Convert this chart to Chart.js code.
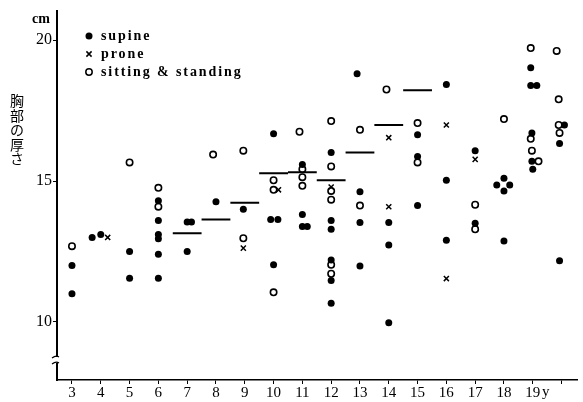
<!DOCTYPE html>
<html>
<head>
<meta charset="utf-8">
<script src="https://cdn.jsdelivr.net/npm/chart.js@4.4.1/dist/chart.umd.min.js"></script>
<style>
  html, body { margin: 0; padding: 0; background: #fff; }
  #wrap { width: 583px; height: 402px; }
</style>
</head>
<body>
<div id="wrap"><canvas id="myChart" width="583" height="402"></canvas></div>
<script>
// supine (filled dots)
const supineAge = [3, 3, 3.7, 4, 5, 5,
  6, 6, 6, 6, 6, 6,
  7, 7.15, 7, 8, 8.95,
  10, 9.9, 10.15, 10,
  11, 11, 11, 11.17,
  12, 12, 12, 12, 12, 12,
  12.9, 13, 13, 13,
  14, 14, 14,
  15, 15, 15,
  16, 16, 16,
  17, 17,
  18, 17.75, 18.2, 18, 18,
  18.93, 18.93, 19.14, 18.97, 18.97, 19,
  20.1, 19.93, 19.93];
const supineVal = [12.0, 11.0, 13.0, 13.1, 12.5, 11.55,
  14.3, 13.6, 13.1, 12.95, 12.4, 11.55,
  13.55, 13.55, 12.5, 14.27, 14.0,
  16.68, 13.64, 13.64, 12.03,
  15.59, 13.81, 13.39, 13.39,
  16.01, 13.6, 13.29, 12.2, 11.47, 10.66,
  18.81, 14.62, 13.53, 11.99,
  13.53, 12.73, 9.97,
  16.64, 15.87, 14.13,
  18.43, 15.03, 12.9,
  16.08, 13.5,
  15.1, 14.86, 14.86, 14.65, 12.87,
  19.02, 18.39, 18.39, 16.71, 15.7, 15.42,
  16.99, 16.33, 12.17];

// prone (crosses)
const proneAge = [4.24, 8.95, 10.17, 12, 14, 14, 16, 16, 17];
const proneVal = [13.0, 12.62, 14.69, 14.79, 16.54, 14.09, 16.99, 11.54, 15.77];

// sitting & standing (open circles)
const sitAge = [3, 5, 6, 6, 7.9, 8.95, 8.95,
  10, 10, 10,
  10.9, 11, 11, 11,
  12, 12, 12, 12, 12, 12,
  13, 13, 13.92, 15, 15, 17, 17, 18,
  18.93, 18.93, 18.97, 19.2,
  19.83, 19.9, 19.9, 19.93];
const sitVal = [12.69, 15.66, 14.76, 14.09, 15.94, 16.08, 12.97,
  15.03, 14.69, 11.05,
  16.75, 15.42, 15.14, 14.83,
  17.13, 15.52, 14.65, 14.34, 12.03, 11.71,
  16.82, 14.13, 18.25, 17.06, 15.66, 14.16, 13.29, 17.2,
  19.72, 16.5, 16.08, 15.7,
  19.62, 17.9, 16.99, 16.71];

// age means (short horizontal bars)
const meanAge = [7, 8, 9, 10, 11, 12, 13, 14, 15];
const meanVal = [13.15, 13.64, 14.23, 15.28, 15.31, 15.03, 16.01, 16.99, 18.22];

const xTicks = [3, 4, 5, 6, 7, 8, 9, 10, 11, 12, 13, 14, 15, 16, 17, 18, 19, 20];
const yTicks = [10, 15, 20];
const yTitle = ['胸', '部', 'の', '厚', 'さ'];
const legendItems = ['supine', 'prone', 'sitting & standing'];

const pts = (xs, ys) => xs.map((x, i) => ({ x: x, y: ys[i] }));

const meanPts = [];
meanAge.forEach((a, i) => {
  meanPts.push({ x: a - 0.5, y: meanVal[i] });
  meanPts.push({ x: a + 0.5, y: meanVal[i] });
  meanPts.push({ x: a + 0.5, y: null });
});

const serif = '"Liberation Serif", "DejaVu Serif", serif';

const extras = {
  id: 'extras',
  afterDraw(chart) {
    const ctx = chart.ctx;
    const xs = chart.scales.x, ys = chart.scales.y;
    const left = chart.chartArea.left;
    ctx.save();
    ctx.fillStyle = '#000';
    ctx.strokeStyle = '#000';

    // unit label
    ctx.font = 'bold 14px ' + serif;
    ctx.textAlign = 'center';
    ctx.textBaseline = 'middle';
    ctx.fillText('cm', 41, 19);

    // vertical japanese title
    ctx.font = '14px "Noto Sans CJK JP"';
    yTitle.forEach((c, i) => ctx.fillText(c, 17, 101 + i * 14.5));

    // "y" after the 19 tick
    ctx.font = '15px ' + serif;
    ctx.fillText('y', xs.getPixelForValue(19.45), 392);

    // axis break mark
    const yb = ys.getPixelForValue(8.65);
    ctx.fillStyle = '#fff';
    ctx.fillRect(left - 2, yb - 3, 5, 6);
    ctx.lineWidth = 1.2;
    [-3, 3].forEach(d => {
      ctx.beginPath();
      ctx.moveTo(left - 5, yb + d + 1);
      ctx.quadraticCurveTo(left - 1, yb + d - 2, left + 2, yb + d);
      ctx.stroke();
    });

    // legend
    ctx.fillStyle = '#000';
    ctx.font = 'bold 14px ' + serif;
    ctx.letterSpacing = '1.9px';
    ctx.textAlign = 'left';
    const lx = 89;
    legendItems.forEach((t, i) => {
      const ly = 36 + i * 18;
      ctx.lineWidth = 1.5;
      if (i === 0) {
        ctx.beginPath(); ctx.arc(lx, ly, 3.5, 0, Math.PI * 2); ctx.fill();
      } else if (i === 1) {
        ctx.beginPath();
        ctx.moveTo(lx - 2.6, ly - 2.6); ctx.lineTo(lx + 2.6, ly + 2.6);
        ctx.moveTo(lx + 2.6, ly - 2.6); ctx.lineTo(lx - 2.6, ly + 2.6);
        ctx.stroke();
      } else {
        ctx.beginPath(); ctx.arc(lx, ly, 3.2, 0, Math.PI * 2); ctx.stroke();
      }
      ctx.fillText(t, 101, ly);
    });
    ctx.restore();
  }
};

new Chart(document.getElementById('myChart'), {
  type: 'scatter',
  data: {
    datasets: [
      {
        label: 'mean',
        type: 'line',
        data: meanPts,
        borderColor: '#000',
        borderWidth: 2,
        pointRadius: 0,
        spanGaps: false,
        fill: false
      },
      {
        label: legendItems[0],
        data: pts(supineAge, supineVal),
        pointStyle: 'circle',
        pointRadius: 3.5,
        backgroundColor: '#000',
        borderColor: '#000',
        borderWidth: 0
      },
      {
        label: legendItems[1],
        data: pts(proneAge, proneVal),
        pointStyle: 'crossRot',
        pointRadius: 3.6,
        borderColor: '#000',
        borderWidth: 1.5
      },
      {
        label: legendItems[2],
        data: pts(sitAge, sitVal),
        pointStyle: 'circle',
        pointRadius: 3.2,
        backgroundColor: '#fff',
        borderColor: '#000',
        borderWidth: 1.6
      }
    ]
  },
  options: {
    responsive: false,
    animation: false,
    layout: { padding: { top: 5, right: 2, left: 0, bottom: 0 } },
    plugins: {
      legend: { display: false },
      tooltip: { enabled: false }
    },
    scales: {
      x: {
        type: 'linear',
        min: 2.48,
        max: 20.55,
        afterBuildTicks: s => { s.ticks = xTicks.map(v => ({ value: v })); },
        afterFit: s => { s.height = 22; },
        grid: { drawOnChartArea: false, drawTicks: true, tickLength: 4, color: '#000' },
        border: { display: true, color: '#000', width: 1.5 },
        ticks: {
          color: '#000',
          font: { family: serif, size: 15 },
          padding: 0,
          maxRotation: 0,
          autoSkip: false,
          callback: v => (v === 20 ? '' : v)
        }
      },
      y: {
        min: 7.94,
        max: 21.05,
        afterBuildTicks: s => { s.ticks = yTicks.map(v => ({ value: v })); },
        afterFit: s => { s.width = 57; },
        grid: { drawOnChartArea: false, drawTicks: true, tickLength: 4, color: '#000' },
        border: { display: true, color: '#000', width: 2 },
        ticks: {
          color: '#000',
          font: { family: serif, size: 16 },
          padding: 1
        }
      }
    }
  },
  plugins: [extras]
});
</script>
</body>
</html>
